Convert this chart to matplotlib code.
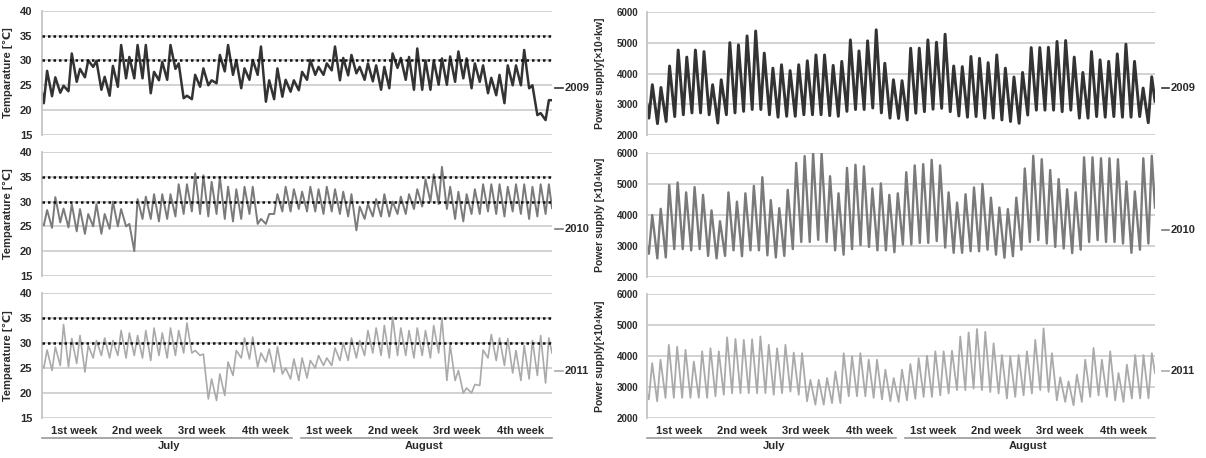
import matplotlib
matplotlib.use("Agg")
import matplotlib.pyplot as plt
from matplotlib.transforms import blended_transform_factory
from matplotlib.lines import Line2D

plt.rcParams['font.family'] = ['Liberation Sans', 'DejaVu Sans']
plt.rcParams['font.weight'] = 'bold'

# ---------------- data ----------------
years = ['2009', '2010', '2011']
week_labels = ['1st week', '2nd week', '3rd week', '4th week']
months = ['July', 'August']
temp_ticks = [15, 20, 25, 30, 35, 40]
power_ticks = [2000, 3000, 4000, 5000, 6000]
temp_thresholds = [30, 35]

# Temperature [deg C], daily low / high (July 1 - Aug 31)
temp2009_lo = [21.4, 22.8, 23.5, 23.8, 25.7, 26.6, 28.7, 24.1, 22.9, 24.7,
               26.4, 26.4, 26.4, 23.4, 26.0, 26.1, 28.3, 22.4, 22.2, 24.7,
               25.0, 25.4, 27.8, 27.1, 24.4, 26.1, 27.1, 21.7, 22.2, 22.7,
               23.7, 24.0, 26.1, 27.1, 27.1, 28.0, 26.0, 27.0, 27.4, 26.1,
               25.8, 24.1, 24.4, 28.5, 26.1, 24.1, 24.1, 24.1, 25.1, 25.1,
               25.7, 26.4, 24.4, 25.7, 23.4, 23.0, 21.4, 25.0, 25.0, 24.4,
               19.0, 18.0]
temp2009_hi = [27.9, 26.6, 24.9, 31.4, 28.3, 30.0, 29.9, 26.7, 28.9, 33.1,
               30.7, 33.1, 33.1, 27.7, 29.7, 33.1, 29.4, 22.9, 27.1, 28.4,
               26.0, 31.1, 33.1, 30.1, 28.4, 30.1, 32.8, 26.0, 28.4, 26.1,
               26.0, 27.7, 30.1, 28.7, 29.4, 32.8, 30.5, 31.1, 28.7, 29.4,
               29.0, 28.7, 31.4, 30.5, 30.7, 32.4, 30.0, 30.0, 30.4, 30.8,
               31.8, 30.4, 29.4, 29.0, 26.5, 27.1, 29.0, 29.0, 32.1, 25.0,
               19.4, 22.0]
temp2009_ends = [23.5, 22.0]

temp2010_lo = [25.2, 24.7, 25.8, 24.8, 24.0, 23.5, 25.0, 23.5, 24.5, 25.0,
               25.0, 20.0, 26.5, 26.5, 26.0, 26.5, 27.0, 27.5, 28.0, 27.5,
               27.0, 27.5, 26.5, 26.0, 26.5, 27.5, 25.5, 25.5, 27.5, 28.0,
               28.0, 28.5, 28.0, 28.0, 27.5, 28.0, 27.5, 27.0, 24.2, 26.5,
               27.0, 27.0, 27.0, 27.5, 27.5, 28.5, 29.0, 30.0, 29.5, 28.5,
               26.5, 26.0, 27.5, 27.5, 28.0, 27.5, 27.0, 28.0, 27.5, 26.5,
               27.0, 27.5]
temp2010_hi = [28.3, 30.9, 28.6, 29.5, 28.5, 27.5, 29.5, 27.5, 30.0, 28.5,
               25.5, 30.5, 31.0, 31.5, 31.5, 31.5, 33.5, 33.5, 35.7, 35.3,
               34.0, 35.0, 33.0, 32.5, 33.0, 33.0, 26.5, 27.5, 31.5, 33.0,
               32.5, 32.0, 33.0, 32.5, 33.0, 32.5, 32.0, 31.5, 29.0, 29.5,
               30.5, 31.5, 30.0, 31.0, 31.5, 32.5, 34.5, 35.5, 37.0, 33.0,
               32.0, 31.5, 32.5, 33.5, 33.5, 33.5, 33.0, 33.5, 33.5, 33.0,
               33.5, 33.5]
temp2010_ends = [25.5, 28.7]

temp2011_lo = [25.0, 24.5, 25.5, 25.2, 25.9, 24.2, 27.0, 27.5, 27.0, 27.5,
               27.0, 27.5, 27.0, 26.5, 27.5, 27.0, 27.5, 28.0, 28.0, 27.5,
               18.8, 18.5, 19.5, 23.5, 27.0, 26.8, 25.2, 26.2, 24.2, 23.8,
               22.8, 22.5, 23.0, 25.0, 25.5, 25.5, 26.5, 26.5, 27.0, 27.5,
               28.0, 27.5, 27.0, 27.5, 27.5, 27.0, 27.5, 27.0, 28.0, 22.5,
               22.5, 20.0, 20.0, 21.5, 27.0, 26.5, 25.5, 24.0, 22.5, 22.8,
               23.5, 22.0]
temp2011_hi = [28.6, 29.2, 33.7, 30.9, 31.5, 29.5, 30.5, 31.0, 30.5, 32.5,
               32.0, 31.5, 32.5, 33.0, 32.0, 33.0, 32.5, 34.0, 28.5, 27.8,
               22.8, 23.8, 26.2, 28.5, 31.0, 31.2, 28.0, 28.8, 29.2, 25.0,
               26.8, 27.0, 26.5, 27.5, 27.0, 29.0, 30.0, 31.0, 30.5, 32.5,
               33.0, 33.5, 35.2, 33.0, 32.5, 33.0, 32.5, 33.5, 34.9, 29.6,
               24.5, 21.0, 21.7, 28.6, 31.7, 31.0, 30.9, 28.5, 29.5, 30.5,
               31.5, 31.0]
temp2011_ends = [25.5, 28.0]

# Power supply [x10^4 kW], daily low / high
power2009_lo = [2550, 2370, 2440, 2600, 2660, 2720, 2720, 2660, 2390, 2660,
                2720, 2770, 2830, 2830, 2660, 2580, 2610, 2610, 2660, 2660,
                2660, 2630, 2610, 2770, 2830, 2830, 2880, 2720, 2550, 2540,
                2490, 2710, 2760, 2840, 2870, 2760, 2620, 2580, 2600, 2550,
                2550, 2490, 2440, 2380, 2650, 2810, 2810, 2810, 2760, 2810,
                2550, 2550, 2600, 2580, 2600, 2580, 2580, 2600, 2400]
power2009_hi = [3640, 3550, 4250, 4770, 4540, 4770, 4720, 3640, 3800, 5010,
                4940, 5230, 5390, 4670, 4180, 4290, 4100, 4290, 4420, 4610,
                4610, 4270, 4400, 5100, 4740, 5070, 5430, 4340, 3800, 3770,
                4830, 4830, 5100, 5025, 5285, 4250, 4230, 4560, 4500, 4360,
                4610, 4180, 3890, 4040, 4850, 4850, 4860, 5050, 5080, 4540,
                4040, 4720, 4450, 4400, 4645, 4960, 4400, 3530, 3900]
power2009_ends = [3000, 3100]

power2010_lo = [2750, 2600, 2630, 2900, 2900, 2860, 2900, 2680, 2600, 2680,
                2860, 2670, 2860, 2860, 2700, 2630, 2680, 2900, 3130, 3130,
                3200, 3130, 2860, 2720, 2900, 3030, 2970, 2860, 2860, 2800,
                3050, 3050, 3100, 3100, 3160, 2950, 2780, 2780, 2830, 2830,
                2880, 2720, 2620, 2670, 2880, 3130, 3190, 3080, 2970, 2920,
                2770, 2880, 3130, 3190, 3130, 3130, 3080, 2780, 2880, 3080]
power2010_hi = [4000, 4200, 4970, 5050, 4730, 4900, 4650, 4150, 3800, 4730,
                4430, 4700, 4940, 5220, 4480, 4220, 4810, 5680, 5900, 6000,
                6000, 5250, 4700, 5520, 5620, 5570, 4860, 5020, 4650, 4700,
                5380, 5600, 5640, 5780, 5600, 4730, 4400, 4670, 4890, 5000,
                4560, 4240, 4190, 4560, 5500, 5910, 5800, 5450, 5160, 4830,
                4730, 5860, 5860, 5830, 5830, 5800, 5080, 4760, 5830, 5910]
power2010_ends = [3000, 4240]

power2011_lo = [2600, 2540, 2650, 2650, 2650, 2650, 2650, 2650, 2700, 2750,
                2800, 2800, 2800, 2800, 2800, 2750, 2800, 2850, 2750, 2540,
                2430, 2430, 2480, 2480, 2700, 2700, 2700, 2650, 2600, 2540,
                2520, 2570, 2620, 2680, 2680, 2730, 2790, 2900, 2900, 2950,
                2900, 2840, 2790, 2630, 2680, 2730, 2790, 2900, 2840, 2570,
                2520, 2410, 2520, 2680, 2730, 2680, 2570, 2520, 2630, 2630,
                2630]
power2011_hi = [3770, 3880, 4360, 4300, 4200, 3820, 4150, 4250, 4150, 4600,
                4550, 4520, 4540, 4630, 4360, 4250, 4360, 4110, 4090, 3230,
                3230, 3290, 3500, 4090, 3990, 4090, 3880, 3880, 3560, 3290,
                3560, 3740, 3930, 4010, 4150, 4150, 4170, 4630, 4760, 4870,
                4780, 4410, 4030, 3990, 4030, 4150, 4520, 4890, 4090, 3310,
                3180, 3400, 3880, 4260, 3880, 4150, 3450, 3720, 4030, 4030,
                4090]
power2011_ends = [2800, 3450]

temp_series = [(temp2009_lo, temp2009_hi, temp2009_ends),
               (temp2010_lo, temp2010_hi, temp2010_ends),
               (temp2011_lo, temp2011_hi, temp2011_ends)]
power_series = [(power2009_lo, power2009_hi, power2009_ends),
                (power2010_lo, power2010_hi, power2010_ends),
                (power2011_lo, power2011_hi, power2011_ends)]

# ---------------- style ----------------
colors = ['#333333', '#7a7a7a', '#aaaaaa']
temp_widths = [1.8, 1.4, 1.2]
power_widths = [2.1, 1.7, 1.3]
grid_c = '#cfcfcf'
text_c = '#2a2a2a'

W, H = 1206, 458
fig = plt.figure(figsize=(W / 100, H / 100), dpi=100)

def fr(x0, y0, x1, y1):
    return [x0 / W, 1 - y1 / H, (x1 - x0) / W, (y1 - y0) / H]

left_boxes = [fr(42, 10.7, 552, 135), fr(42, 152, 552, 276), fr(42, 293, 552, 418)]
right_boxes = [fr(647, 12.3, 1155, 135), fr(647, 153, 1155, 277), fr(647, 294, 1155, 418)]


def day_series(lo, hi, ends):
    xs, ys = [0.0], [ends[0]]
    for i, (a, b) in enumerate(zip(lo, hi)):
        xs += [i + 0.22, i + 0.62]
        ys += [a, b]
    xs.append(float(len(lo)))
    ys.append(ends[1])
    return xs, ys


def style_axis(ax, ticks, fs, pad):
    ax.set_ylim(ticks[0], ticks[-1])
    ax.set_yticks(ticks)
    ax.grid(axis='y', color=grid_c, lw=1.3)
    ax.set_axisbelow(True)
    for s in ['top', 'right', 'bottom']:
        ax.spines[s].set_visible(False)
    ax.spines['left'].set_color('#c4c4c4')
    ax.spines['left'].set_linewidth(1.3)
    ax.tick_params(axis='y', length=0, pad=pad, labelsize=fs, labelcolor=text_c)
    ax.tick_params(axis='x', length=0, labelbottom=False)
    for t in ax.get_yticklabels():
        t.set_fontweight('bold')


def year_tag(ax, yr, color, lw, x0, x1, xt):
    ax.add_line(Line2D([x0, x1], [0.38, 0.38], transform=ax.transAxes,
                       color=color, lw=lw, clip_on=False))
    ax.text(xt, 0.38, yr, transform=ax.transAxes, ha='left', va='center',
            fontsize=8, fontweight='bold', color=text_c)


axes_left, axes_right = [], []
for r in range(3):
    # temperature
    ax = fig.add_axes(left_boxes[r])
    lo, hi, ends = temp_series[r]
    xs, ys = day_series(lo, hi, ends)
    ax.plot(xs, ys, color=colors[r], lw=temp_widths[r], solid_joinstyle='round')
    ax.set_xlim(0, len(lo))
    style_axis(ax, temp_ticks, 8, 7)
    for th in temp_thresholds:
        ax.axhline(th, color='#111111', lw=1.8, ls=(0, (1, 1.2)), zorder=3)
    lab = 'Temparature [\u2103]'
    ax.set_ylabel(lab, fontsize=8, fontweight='bold', color=text_c)
    ax.yaxis.set_label_coords(-0.057, 0.5)
    year_tag(ax, years[r], colors[r], 1.2, 1.006, 1.021, 1.024)
    axes_left.append(ax)

    # power
    ax = fig.add_axes(right_boxes[r])
    lo, hi, ends = power_series[r]
    xs, ys = day_series(lo, hi, ends)
    ax.plot(xs, ys, color=colors[r], lw=power_widths[r], solid_joinstyle='round')
    ax.set_xlim(0, len(lo))
    style_axis(ax, power_ticks, 7, 6)
    lab = 'Power supply [\u00d710\u2074kw]' if r == 1 else 'Power supply[\u00d710\u2074kw]'
    ax.set_ylabel(lab, fontsize=7.5, fontweight='bold', color=text_c)
    ax.yaxis.set_label_coords(-0.082, 0.5)
    year_tag(ax, years[r], colors[r], 1.2, 1.013, 1.027, 1.03)
    axes_right.append(ax)

# category axis (weeks / months) under bottom panels
for ax in [axes_left[2], axes_right[2]]:
    tr = blended_transform_factory(ax.transAxes, fig.transFigure)
    for m in range(2):
        for k, wl in enumerate(week_labels):
            xc = (m * 4 + k + 0.5) / 8
            ax.text(xc, 1 - 431 / H, wl, transform=tr, ha='center', va='center',
                    fontsize=8, fontweight='bold', color=text_c)
        x0, x1 = (0.0, 0.49) if m == 0 else (0.507, 1.0)
        ax.add_line(Line2D([x0, x1], [1 - 437.5 / H] * 2, transform=tr,
                           color='#9a9a9a', lw=1.2, clip_on=False))
        ax.text(0.25 + 0.5 * m, 1 - 446 / H, months[m], transform=tr,
                ha='center', va='center', fontsize=8, fontweight='bold',
                color=text_c)

fig.savefig('out.png', dpi=100)
